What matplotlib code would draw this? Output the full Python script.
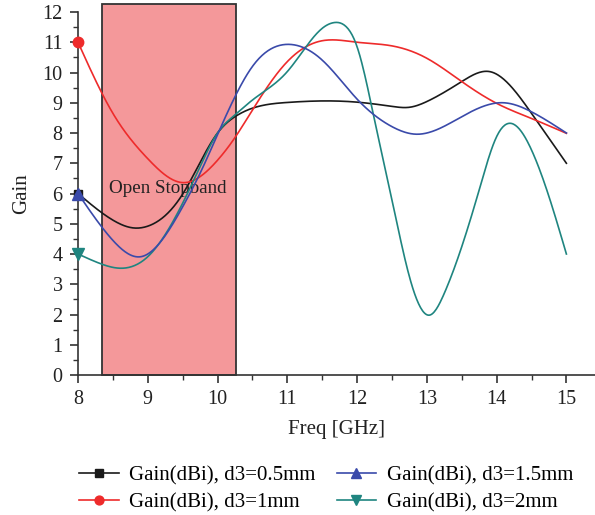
import numpy as np
import matplotlib
matplotlib.use("Agg")
import matplotlib.pyplot as plt
from matplotlib.patches import Rectangle
from matplotlib.ticker import MultipleLocator

plt.rcParams['font.family'] = ['Liberation Serif', 'DejaVu Serif']

# Data
f_05 = [8, 8.5, 8.8, 9, 9.5, 10, 10.25, 10.5, 11, 11.5, 12, 12.5, 12.75, 13, 13.5, 13.9, 14.5, 15]
g_05 = [6.0, 5.12, 4.86, 4.92, 5.98, 8.0, 8.54, 8.82, 9.01, 9.06, 9.02, 8.88, 8.85, 9.04, 9.7, 10.03, 8.65, 7.0]

f_1 = [8, 8.5, 9, 9.5, 10, 10.25, 10.5, 11, 11.5, 12, 12.5, 13, 13.5, 14, 14.5, 15]
g_1 = [11.0, 8.65, 7.15, 6.36, 7.1, 7.85, 8.76, 10.36, 11.05, 11.0, 10.88, 10.47, 9.7, 8.98, 8.48, 7.99]

f_15 = [8, 8.5, 8.9, 9.5, 9.75, 10, 10.25, 10.5, 11, 11.5, 12, 12.5, 12.85, 13.5, 14.1, 14.5, 15]
g_15 = [6.0, 4.45, 3.91, 5.56, 6.67, 7.95, 9.2, 10.2, 10.93, 10.41, 9.12, 8.21, 7.96, 8.54, 9.0, 8.7, 8.0]

f_2 = [8, 8.3, 8.6, 9, 9.5, 9.75, 10, 10.25, 10.5, 11, 11.5, 11.67, 11.85, 12, 12.25, 12.5, 12.75,
       13.04, 13.25, 13.5, 13.75, 14, 14.18, 14.5, 14.75, 15]
g_2 = [4.0, 3.7, 3.53, 3.91, 5.68, 6.89, 8.0, 8.6, 9.09, 10.03, 11.46, 11.65, 11.5, 10.85, 8.43, 5.79, 3.25,
       1.98, 2.7, 4.24, 6.12, 7.88, 8.32, 7.44, 5.9, 4.0]

labels = ["Gain(dBi), d3=0.5mm", "Gain(dBi), d3=1mm", "Gain(dBi), d3=1.5mm", "Gain(dBi), d3=2mm"]
stopband = (8.337, 10.27)


def natural_spline(x, y, n=500):
    x = np.asarray(x, float)
    y = np.asarray(y, float)
    m = len(x)
    h = np.diff(x)
    A = np.zeros((m, m))
    b = np.zeros(m)
    A[0, 0] = 1
    A[-1, -1] = 1
    for i in range(1, m - 1):
        A[i, i - 1] = h[i - 1]
        A[i, i] = 2 * (h[i - 1] + h[i])
        A[i, i + 1] = h[i]
        b[i] = 3 * ((y[i + 1] - y[i]) / h[i] - (y[i] - y[i - 1]) / h[i - 1])
    c = np.linalg.solve(A, b)
    xs = np.linspace(x[0], x[-1], n)
    idx = np.clip(np.searchsorted(x, xs) - 1, 0, m - 2)
    dx = xs - x[idx]
    hi = h[idx]
    bb = (y[idx + 1] - y[idx]) / hi - hi * (2 * c[idx] + c[idx + 1]) / 3
    dd = (c[idx + 1] - c[idx]) / (3 * hi)
    ys = y[idx] + bb * dx + c[idx] * dx ** 2 + dd * dx ** 3
    return xs, ys


fig = plt.figure(figsize=(5.95, 5.15), dpi=100)
ax = fig.add_axes([78 / 595, 140 / 515, 1 - 78 / 595, 363 / 515])

rect = Rectangle((stopband[0], 0), stopband[1] - stopband[0], 12.25,
                 facecolor='#f4989a', edgecolor='#333333', lw=1.3, clip_on=False, zorder=1)
ax.add_patch(rect)
ax.text(9.29, 6.18, "Open Stopband", ha='center', va='center', fontsize=13.7, color='#222222', zorder=2)

series = [
    (f_05, g_05, '#1a1a1a', 's', 6),
    (f_1, g_1, '#ee2b2b', 'o', 7.5),
    (f_2, g_2, '#1f8580', 'v', 8),
    (f_15, g_15, '#3a4aaa', '^', 8),
]
lab_map = {'s': labels[0], 'o': labels[1], '^': labels[2], 'v': labels[3]}
hd = {}
for fx, gy, col, mk, ms in series:
    xs, ys = natural_spline(fx, gy)
    ax.plot(xs, ys, color=col, lw=1.2, zorder=3, clip_on=False)
    ax.plot(fx[:1], gy[:1], marker=mk, color=col, ms=ms, ls='none', zorder=4, clip_on=False)
    h, = ax.plot([], [], color=col, lw=1.2, marker=mk, ms=ms, label=lab_map[mk])
    hd[mk] = h
handles = [hd['s'], hd['o'], hd['^'], hd['v']]

ax.set_xlim(8, 15.41)
ax.set_ylim(0, 12)
ax.xaxis.set_major_locator(MultipleLocator(1))
ax.xaxis.set_minor_locator(MultipleLocator(0.5))
ax.yaxis.set_major_locator(MultipleLocator(1))
ax.yaxis.set_minor_locator(MultipleLocator(0.5))
ax.spines['top'].set_visible(False)
ax.spines['right'].set_visible(False)
for s in ['left', 'bottom']:
    ax.spines[s].set_color('#333333')
    ax.spines[s].set_linewidth(1.2)
ax.tick_params(which='major', direction='out', length=6, width=1.2, color='#333333',
               labelsize=14.5, labelcolor='#222222', pad=5)
ax.tick_params(which='minor', direction='out', length=3.5, width=1.0, color='#333333')
ax.set_xlabel("Freq [GHz]", fontsize=15, color='#222222', labelpad=8)
ax.set_ylabel("Gain", fontsize=15, color='#222222', labelpad=8)

fig.legend(handles=handles, ncol=2, loc='upper left', bbox_to_anchor=(69 / 595, 1 - 455 / 515),
           frameon=False, fontsize=15, handlelength=1.9, columnspacing=1.0, borderpad=0,
           labelspacing=0.38, handletextpad=0.5, markerscale=0.85)

fig.savefig("out.png", dpi=100)
